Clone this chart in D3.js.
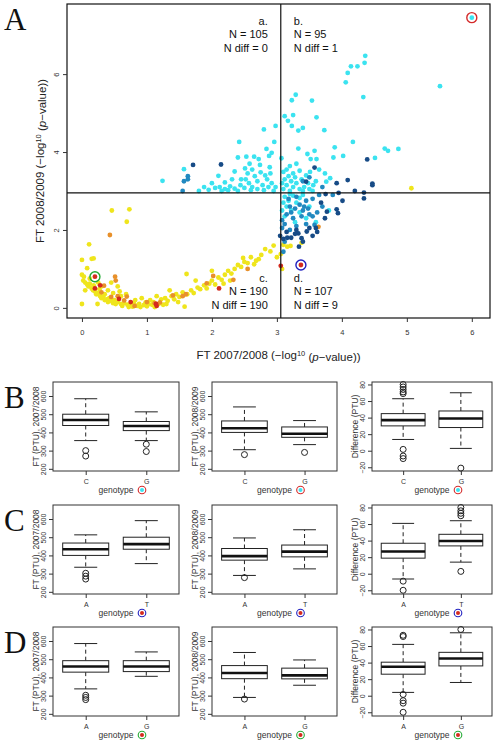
<!DOCTYPE html>
<html><head><meta charset="utf-8">
<script src="https://cdn.jsdelivr.net/npm/d3@7"></script>
<style>body{margin:0;background:#fff} svg{display:block}</style>
</head><body><svg id="c" width="503" height="750"></svg>
<script>
// ---------- Panel A data: [FT 2007/2008, FT 2008/2009] (-log10 p) ----------
const cyanPts = [
[6.0,7.45],[4.36,6.47],[4.35,6.29],[4.14,6.2],[4.24,6.2],[4.09,6.03],[4.06,5.79],[4.33,5.41],[5.51,5.69],
[3.29,5.47],[3.23,5.33],[3.54,5.32],[3.12,4.92],[3.25,4.95],[3.17,4.8],[3.61,4.89],[3.23,4.67],[3.40,4.62],
[3.33,4.55],[3.73,4.56],[2.80,4.58],[2.98,4.67],[2.96,4.26],[4.17,4.26],[4.66,4.09],[4.71,4.03],[4.87,4.08],
[3.33,4.09],[3.58,4.03],[3.89,4.12],[2.84,4.08],[2.92,3.98],[2.88,3.9],[3.47,3.95],[4.02,3.9],[3.87,3.86],
[4.51,3.85],[3.52,3.82],[3.61,3.82],[3.07,3.84],[2.72,3.82],[2.65,3.88],[2.74,3.67],[2.89,3.61],[3.2,3.64],
[3.35,3.52],[3.74,3.45],[3.51,3.49],[3.10,3.49],[3.82,3.33],[3.76,3.24],[3.56,3.15],
[2.42,4.26],[2.4,3.86],[2.53,3.88],[2.51,3.58],[2.58,3.7],[1.24,3.26],[1.57,3.56],[2.1,3.39],[2.31,3.3],
[2.05,3.08],[2.12,3.1],[2.2,3.05],[2.28,3.12],[2.35,3.06],[2.44,3.15],[2.5,3.08],[2.57,3.2],[2.62,3.1],
[2.7,3.25],[2.78,3.15],[2.85,3.3],[2.92,3.2],[2.98,3.1],[2.66,3.38],[2.45,3.3],[2.2,3.22],[1.95,3.03],
[1.88,3.1],[2.0,3.2],[2.4,3.0],[2.6,3.02],[2.8,3.02],[2.9,3.45],[2.75,3.48],[2.55,3.45],[2.95,3.0],
[2.15,3.0],[1.8,3.0],[2.35,3.5],[2.62,3.55],[2.25,3.02],[2.7,3.05],[2.87,3.1],[2.52,3.3],[2.82,3.4],
[3.1,3.05],[3.15,3.15],[3.2,3.0],[3.25,3.1],[3.3,3.2],[3.12,3.3],[3.18,3.38],[3.28,3.35],[3.38,3.3],
[3.42,3.1],[3.48,3.2],[3.55,3.0],[3.22,3.25],[3.35,3.05],[3.6,3.25],[3.45,3.4],[3.15,3.55],[3.3,3.7],
[3.65,3.55],[3.08,3.2],[3.4,3.0],[3.5,3.05],[3.25,3.45],
[3.12,2.85],[3.18,2.75],[3.25,2.88],[3.15,2.6],[3.3,2.7],[3.22,2.5],[3.4,2.9],[3.35,2.45],[3.5,2.6],
[3.45,2.3],[3.12,2.35],[3.6,2.2],[3.8,2.5],[3.28,2.2],[3.1,2.7],[3.2,2.92],[3.35,2.82],[3.08,2.5]
];
const midBluePts = [
[1.63,3.38],[1.57,3.25],[1.63,3.3],[1.55,3.0],[3.86,2.9],[3.58,2.13],[3.1,1.44],[3.2,2.6],[3.28,2.55],
[3.35,2.65],[3.4,2.5],[3.48,2.55],[3.15,2.4],[3.25,2.3],[3.38,2.35],[3.5,2.4],[3.12,2.15],[3.3,2.1],
[3.45,2.15],[3.55,2.35],[3.62,2.45],[3.7,2.6],[3.2,2.0],[3.18,2.8],[3.3,2.85],[3.45,2.75],[3.55,2.8],
[3.65,2.9],[3.08,2.25],[3.12,1.7],[3.22,2.45],[3.5,3.35],[3.4,3.25],[3.7,3.1],[3.08,2.05],[3.42,2.6]
];
const darkBluePts = [
[4.39,3.81],[3.58,3.6],[4.09,3.28],[3.92,3.2],[4.47,3.19],[4.47,3.15],[3.45,3.24],[1.71,3.67],[2.14,3.68],
[4.34,2.96],[4.34,2.81],[4.01,2.75],[3.75,2.92],[3.92,2.53],[3.94,2.43],[3.77,2.47],[3.74,2.3],[3.46,1.96],
[3.30,2.0],[3.33,1.91],[3.38,1.79],[3.34,1.57],[3.10,1.77],[3.16,1.8],[3.22,1.8],[3.28,1.9],[3.55,1.85],
[3.05,1.85],[3.6,2.05],[3.68,2.7],[3.95,2.95],[3.5,2.05],[3.15,1.95],[3.4,1.7],[4.2,3.0],[3.62,1.95]
];
const yellowPts = [
[5.07,3.07],[3.38,1.67],[3.10,1.62],[3.16,1.57],[3.21,1.59],[3.06,1.38],[3.08,1.0],[2.82,1.51],[2.76,1.36],
[2.68,1.21],[0.46,2.5],[0.73,2.53],[0.69,2.21],[0.11,1.63],[0.0,1.23],[0.15,1.26],[0.18,1.27],[0.08,1.02],
[0.0,0.85],[0.03,0.8],[0.05,0.65],[0.08,0.6],[0.1,0.55],[0.12,0.62],[0.15,0.5],[0.17,0.45],[0.2,0.42],
[0.22,0.35],[0.25,0.38],[0.28,0.3],[0.3,0.25],[0.33,0.28],[0.35,0.2],[0.38,0.22],[0.4,0.15],[0.42,0.25],
[0.45,0.18],[0.48,0.12],[0.5,0.2],[0.52,0.1],[0.55,0.15],[0.6,0.1],[0.62,0.05],[0.65,0.12],[0.7,0.08],
[0.72,0.02],[0.75,0.06],[0.78,0.03],[0.85,0.05],[0.88,0.1],[0.9,0.02],[0.95,0.07],[0.98,0.14],[1.0,0.04],
[1.02,0.1],[1.05,0.2],[1.08,0.08],[1.1,0.15],[1.12,0.02],[1.18,0.1],[1.22,0.22],[1.25,0.08],[1.28,0.25],
[1.32,0.18],[1.38,0.3],[1.42,0.22],[1.45,0.35],[1.5,0.28],[1.55,0.4],[1.58,0.03],[1.61,0.87],[1.62,0.35],
[1.68,0.45],[1.72,0.38],[1.78,0.52],[1.82,0.48],[1.88,0.58],[1.92,0.5],[1.96,0.62],[2.0,0.7],[2.05,0.6],
[2.1,0.78],[2.15,0.72],[2.2,0.85],[2.25,0.95],[2.3,0.88],[2.35,1.0],[2.4,1.1],[2.45,1.05],[2.48,1.28],
[2.5,1.18],[2.55,1.15],[2.6,1.3],[2.65,1.12],[2.72,1.25],[2.9,1.45],[2.95,1.6],[3.0,1.3],[0.0,0.1],
[0.24,0.1],[0.05,0.45],[0.3,0.55],[0.4,0.45],[0.45,0.65],[0.55,0.55],[0.6,0.3],[0.35,0.35],[0.12,0.75],
[0.25,0.65],[0.82,0.2],[0.92,0.25],[1.15,0.3],[0.68,0.35],[1.35,0.45],[1.75,0.7],[2.0,0.95],[2.18,0.62],
[0.02,0.7],[0.18,0.58],[0.27,0.48],[0.48,0.38],[0.58,0.42],[0.8,0.12],[1.3,0.1],[1.48,0.15],[2.28,0.7]
];
const orangePts = [
[0.43,1.87],[0.51,0.8],[0.52,0.7],[0.34,0.57],[0.69,0.29],[0.65,0.19],[0.81,0.05],[1.2,0.14],[1.4,0.32],
[1.55,0.3],[1.6,0.35],[1.92,0.63],[2.02,0.82],[2.33,0.72],[3.64,2.08],[0.45,0.28],[0.55,0.3],[1.12,0.12],
[0.3,0.4],[1.0,0.15],[2.55,1.0]
];
const redPts = [
[3.37,1.1],[0.2,0.8],[3.06,1.08],[0.2,0.5],[0.28,0.58],[0.57,0.23],[1.15,0.05],[1.14,0.1],[2.11,0.5],[0.75,0.15]
];
const circledPts = [[6.0,7.45,"#d42a2a"],[3.37,1.1,"#2020c0"],[0.2,0.8,"#22aa33"]];
const xTicksA = [0,1,2,3,4,5,6];
const yTicksA = [0,2,4,6];
const hCut = 2.95, vCut = 3.06;
const quadLabels = [
  ["a.","N = 105","N diff = 0"],
  ["b.","N = 95","N diff = 1"],
  ["c.","N = 190","N diff = 190"],
  ["d.","N = 107","N diff = 9"]
];

// ---------- Box plot data (rows B,C,D): [lowWhisker, Q1, median, Q3, highWhisker] ----------
const rowLetters = ["B","C","D"];
const genotypes = [["C","G"],["A","T"],["A","G"]];
const ft0708Stats = [
  [[355,438,468,500,585],[355,410,435,460,513]],
  [[335,400,434,468,513],[355,434,462,500,591]],
  [[337,429,460,492,586],[406,432,460,492,540]]
];
const ft0708Out = [[[300,270],[335,295]],[[302,286,270],[]],[[302,290,278],[]]];
const ft0809Stats = [
  [[305,400,423,463,540],[333,373,393,430,465]],
  [[290,374,396,438,496],[326,392,421,457,541]],
  [[290,393,424,465,537],[357,392,411,451,496]]
];
const ft0809Out = [[[278],[290]],[[278],[]],[[281],[]]];
const diffStats = [
  [[13.6,30,37,44.8,62.8],[2.8,28,39,48,70]],
  [[-6.4,18.8,26.8,36.8,60.8],[14,33.6,39.6,47.6,64]],
  [[4,26,35,40.5,62],[16,36,45,52.4,76]]
];
const diffOut = [
  [[80,77,74,71,69,1.6,-6.4,-9.5],[-21]],
  [[-9,-20],[80,76,73,70,2.8]],
  [[73,71.5,1.5,-6,-9,-20],[80]]
];
const ftTicks = [200,300,400,500,600];
const diffTicks = [-20,0,20,40,60,80];
const boxTitles = ["FT (PTU), 2007/2008","FT (PTU), 2008/2009","Difference (PTU)"];
const iconColors = [["#3be3f0","#d42a2a"],["#d42a1e","#2020c0"],["#d42a1e","#22aa33"]];

// ---------- Drawing ----------
const svg = d3.select("#c");
const sans = "'Liberation Sans', Arial, Helvetica, sans-serif";
const serif = "'Liberation Serif','DejaVu Serif', serif";
svg.append("rect").attr("width",503).attr("height",750).attr("fill","#fff");

const xA = d3.scaleLinear().domain([-0.23,6.28]).range([67,490]);
const yA = d3.scaleLinear().domain([-0.26,7.8]).range([318,4]);
const gA = svg.append("g");
const series = [
  {pts: yellowPts, color:"#efe51c"},
  {pts: orangePts, color:"#e8902a"},
  {pts: cyanPts, color:"#3be3f0"},
  {pts: midBluePts, color:"#2189c0"},
  {pts: darkBluePts, color:"#174b86"},
  {pts: redPts, color:"#d42a1e"}
];
series.forEach(s => {
  gA.append("g").selectAll("circle").data(s.pts).join("circle")
    .attr("cx", d => xA(d[0])).attr("cy", d => yA(d[1])).attr("r", 2.4).attr("fill", s.color);
});
gA.append("g").selectAll("circle").data(circledPts).join("circle")
  .attr("cx", d => xA(d[0])).attr("cy", d => yA(d[1])).attr("r", 5)
  .attr("fill","none").attr("stroke", d => d[2]).attr("stroke-width",1.4);

// cut lines
gA.append("line").attr("x1",xA.range()[0]).attr("x2",xA.range()[1])
  .attr("y1",yA(hCut)).attr("y2",yA(hCut)).attr("stroke","#111").attr("stroke-width",1.2);
gA.append("line").attr("x1",xA(vCut)).attr("x2",xA(vCut))
  .attr("y1",yA.range()[0]).attr("y2",yA.range()[1]).attr("stroke","#111").attr("stroke-width",1.2);
// frame
gA.append("rect").attr("x",67).attr("y",4).attr("width",423).attr("height",314)
  .attr("fill","none").attr("stroke","#111").attr("stroke-width",1.2);

function styleAxis(g, fs){
  g.select(".domain").remove();
  g.selectAll("line").attr("stroke","#333");
  g.selectAll("text").attr("font-family",sans).attr("font-size",fs).attr("fill","#333");
}
const axXA = svg.append("g").attr("transform","translate(0,318)")
  .call(d3.axisBottom(xA).tickValues(xTicksA).tickSize(4).tickPadding(8).tickFormat(d3.format("d")));
styleAxis(axXA, 7.5);
const axYA = svg.append("g").attr("transform","translate(67,0)")
  .call(d3.axisLeft(yA).tickValues(yTicksA).tickSize(4).tickFormat(d3.format("d")));
styleAxis(axYA, 7.5);
axYA.selectAll("text").attr("x",null).attr("dy",null).attr("text-anchor","middle")
  .attr("transform","translate(-8,0) rotate(-90)");

// axis titles
function axTitle(sel, pre){
  sel.append("tspan").text(pre + " (\u2212log");
  sel.append("tspan").text("10").attr("font-size","0.65em").attr("dy","-0.45em");
  sel.append("tspan").text(" (").attr("dy","0.45em");
  sel.append("tspan").text("p").attr("font-style","italic");
  sel.append("tspan").text("\u2212value))");
}
const xt = svg.append("text").attr("x",278.5).attr("y",359).attr("text-anchor","middle")
  .attr("font-family",sans).attr("font-size",11.5).attr("fill","#222");
axTitle(xt, "FT 2007/2008");
const yt = svg.append("text").attr("transform","translate(44,161) rotate(-90)").attr("text-anchor","middle")
  .attr("font-family",sans).attr("font-size",11.5).attr("fill","#222");
axTitle(yt, "FT 2008/2009");

// quadrant labels
const qPos = [
  {x: xA(vCut)-13, y: 21, anchor:"end"},
  {x: xA(vCut)+13, y: 21, anchor:"start"},
  {x: xA(vCut)-13, y: 278, anchor:"end"},
  {x: xA(vCut)+13, y: 278, anchor:"start"}
];
quadLabels.forEach((lines,i) => {
  lines.forEach((t,j) => {
    svg.append("text").attr("x",qPos[i].x).attr("y",qPos[i].y + j*13.3)
      .attr("dominant-baseline","central").attr("text-anchor",qPos[i].anchor)
      .attr("font-family",sans).attr("font-size",11).attr("fill","#111").text(t);
  });
});

svg.append("text").attr("x",4).attr("y",30).attr("font-family",serif).attr("font-size",31)
  .attr("fill","#111").text("A");

// ---------- Box plots ----------
const rowTops = [382, 505, 627];
const rowH = 89;
const panelX = [[53,179],[212,337],[372,492]];
const statsAll = [ft0708Stats, ft0809Stats, diffStats];
const outAll = [ft0708Out, ft0809Out, diffOut];

rowLetters.forEach((letter, r) => {
  svg.append("text").attr("x",4).attr("y",rowTops[r]+26).attr("font-family",serif)
    .attr("font-size",31).attr("fill","#111").text(letter);
  for (let p = 0; p < 3; p++) {
    const [x0, x1] = panelX[p];
    const top = rowTops[r], bot = top + rowH;
    const x = d3.scaleLinear().domain([0.46, 2.54]).range([x0, x1]);
    const y = d3.scaleLinear().domain(p < 2 ? [188, 677] : [-24.5, 83]).range([bot, top]);
    const g = svg.append("g");
    const u = x(1) - x(0);
    const bw = 0.76 * u;
    genotypes[r].forEach((cat, k) => {
      const s = statsAll[p][r][k];
      const cx = x(k + 1);
      // whiskers (dashed)
      g.append("line").attr("x1",cx).attr("x2",cx).attr("y1",y(s[3])).attr("y2",y(s[4]))
        .attr("stroke","#222").attr("stroke-dasharray","4,3");
      g.append("line").attr("x1",cx).attr("x2",cx).attr("y1",y(s[1])).attr("y2",y(s[0]))
        .attr("stroke","#222").attr("stroke-dasharray","4,3");
      // caps
      [s[0], s[4]].forEach(v => g.append("line").attr("x1",cx-bw/4).attr("x2",cx+bw/4)
        .attr("y1",y(v)).attr("y2",y(v)).attr("stroke","#222"));
      // box
      g.append("rect").attr("x",cx-bw/2).attr("width",bw).attr("y",y(s[3]))
        .attr("height",y(s[1])-y(s[3])).attr("fill","#fff").attr("stroke","#222");
      g.append("line").attr("x1",cx-bw/2).attr("x2",cx+bw/2).attr("y1",y(s[2])).attr("y2",y(s[2]))
        .attr("stroke","#111").attr("stroke-width",2.6);
      // outliers
      g.selectAll(null).data(outAll[p][r][k]).join("circle").attr("cx",cx).attr("cy",d=>y(d))
        .attr("r",3).attr("fill","none").attr("stroke","#222");
    });
    // frame
    g.append("rect").attr("x",x0).attr("y",top).attr("width",x1-x0).attr("height",rowH)
      .attr("fill","none").attr("stroke","#333");
    // y axis
    const ay = svg.append("g").attr("transform",`translate(${x0},0)`)
      .call(d3.axisLeft(y).tickValues(p < 2 ? ftTicks : diffTicks).tickSize(4).tickFormat(d3.format("d")));
    styleAxis(ay, 7);
    ay.selectAll("text").attr("x",null).attr("dy",null).attr("text-anchor","middle")
      .attr("transform","translate(-7,0) rotate(-90)");
    // x axis
    const ax = svg.append("g").attr("transform",`translate(0,${bot})`)
      .call(d3.axisBottom(x).tickValues([1,2]).tickSize(4).tickPadding(4)
        .tickFormat((d,i) => genotypes[r][i]));
    styleAxis(ax, 7);
    // y title
    svg.append("text").attr("transform",`translate(${x0-14},${(top+bot)/2}) rotate(-90)`)
      .attr("text-anchor","middle").attr("font-family",sans).attr("font-size",8.5).attr("fill","#333")
      .text(boxTitles[p]);
    // x title + icon
    const mid = (x0 + x1) / 2;
    svg.append("text").attr("x",mid).attr("y",bot+22).attr("text-anchor","middle")
      .attr("font-family",sans).attr("font-size",8.5).attr("fill","#333").text("genotype");
    svg.append("circle").attr("cx",mid+26).attr("cy",bot+19).attr("r",3.8)
      .attr("fill","none").attr("stroke",iconColors[r][1]).attr("stroke-width",1.1);
    svg.append("circle").attr("cx",mid+26).attr("cy",bot+19).attr("r",2)
      .attr("fill",iconColors[r][0]);
  }
});
</script></body></html>
